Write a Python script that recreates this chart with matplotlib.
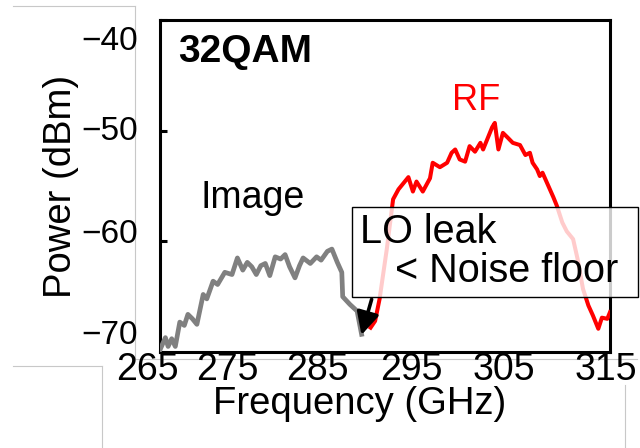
"""32QAM spectrum: image band (grey) and RF band (red) with LO-leak callout."""

import matplotlib
matplotlib.use("Agg")
import matplotlib.pyplot as plt  # noqa: E402
import matplotlib.transforms as mtransforms  # noqa: E402
from matplotlib.lines import Line2D  # noqa: E402
from matplotlib.patches import Rectangle  # noqa: E402

# ----------------------------------------------------------------------------- data
image_freq = [265.0, 265.6, 265.9, 266.3, 266.7, 267.2, 267.7, 268.1, 268.6, 269.1,
              269.8, 270.2, 270.9, 271.4, 272.2, 273.0, 273.6, 274.2, 274.7, 275.2,
              275.7, 276.2, 276.7, 277.2, 277.8, 278.4, 278.9, 279.4, 280.0, 280.5,
              280.9, 281.7, 282.4, 282.9, 283.6, 284.1, 284.7, 285.2, 285.3, 286.1,
              286.9, 287.4]
image_power = [-69.8, -68.7, -69.5, -68.8, -69.5, -67.3, -67.6, -66.6, -67.0, -67.5,
               -64.8, -65.2, -63.6, -63.9, -62.8, -63.0, -61.5, -62.6, -61.9, -62.3,
               -63.0, -62.2, -62.0, -63.1, -61.4, -61.6, -61.2, -62.3, -63.3, -62.2,
               -61.5, -62.0, -61.4, -61.7, -60.9, -60.7, -61.9, -62.8, -65.0, -65.7,
               -66.3, -68.4]

rf_freq = [288.4, 288.9, 289.4, 290.2, 290.9, 291.5, 292.2, 292.6, 293.1, 293.5,
           294.2, 295.0, 295.3, 296.1, 296.9, 297.4, 297.8, 298.3, 298.9, 299.4,
           300.0, 300.6, 300.9, 301.4, 301.9, 302.2, 302.6, 303.1, 303.6, 304.2,
           305.0, 305.6, 306.1, 306.4, 306.9, 307.2, 307.5, 308.1, 308.7, 309.1,
           309.7, 310.2, 310.9, 311.4, 312.0, 312.6, 313.1, 313.7, 314.1, 314.7,
           315.0]
rf_power = [-67.8, -67.2, -65.2, -60.7, -56.2, -55.3, -54.6, -54.2, -55.5, -54.6,
            -55.5, -54.3, -52.9, -53.3, -52.9, -52.0, -51.7, -52.6, -52.8, -51.4,
            -51.9, -51.1, -51.7, -50.7, -49.7, -49.3, -51.7, -50.2, -50.6, -51.1,
            -51.3, -52.2, -52.0, -52.9, -53.5, -54.1, -53.8, -54.9, -56.0, -56.8,
            -58.3, -59.1, -59.8, -61.6, -64.3, -65.8, -66.7, -67.9, -66.9, -67.0,
            -66.4]

x_ticks = [265, 275, 285, 295, 305, 315]
x_labels = ["265", "275", "285", "295", "305", "315"]
y_ticks = [-40, -50, -60, -70]
y_labels = ["\u221240", "\u221250", "\u221260", "\u221270"]

# hand-placed tick labels in the original: pixel offsets (dx right, dy down)
x_label_shift = [(-13, 0), (-23, 0), (-23, 0), (-19, 0), (-16, 0), (-4, 0)]
y_label_shift = [(0, 18), (0, -3), (0, -10), (0, -20)]

W, H = 640, 448
plt.rcParams["font.family"] = ["Liberation Sans", "DejaVu Sans"]

fig = plt.figure(figsize=(W / 100, H / 100), dpi=100)
ax = fig.add_axes([160 / W, 1 - 352 / H, 450 / W, 332 / H])

ax.plot(image_freq, image_power, color="#808080", lw=3.4, solid_joinstyle="round", zorder=3)
ax.plot(rf_freq, rf_power, color="#ff0000", lw=2.9, solid_joinstyle="round", zorder=3)

ax.set_xlim(265, 315)
ax.set_ylim(-70, -40)
for s in ax.spines.values():
    s.set_linewidth(2.2)
    s.set_color("black")

ax.set_xticks(x_ticks)
ax.set_xticklabels(x_labels)
ax.set_yticks(y_ticks)
ax.set_yticklabels(y_labels)
ax.tick_params(axis="x", length=0, pad=0, labelsize=27)
ax.tick_params(axis="y", direction="in", length=5, width=2.2, pad=16, labelsize=24)


def _shift(labels, shifts):
    for lbl, (dx, dy) in zip(labels, shifts):
        off = mtransforms.ScaledTranslation(dx / 100, -dy / 100, fig.dpi_scale_trans)
        lbl.set_transform(lbl.get_transform() + off)


_shift(ax.get_xticklabels(), x_label_shift)
_shift(ax.get_yticklabels(), y_label_shift)

fig.text(360 / W, 1 - 404 / H, "Frequency (GHz)", fontsize=27.5, ha="center", va="center")
fig.text(61 / W, 1 - 186 / H, "Power (dBm)", fontsize=27.5, rotation=90,
         ha="center", va="center")

ax.text(0.04, 0.873, "32QAM", transform=ax.transAxes, fontsize=28, fontweight="bold",
        va="baseline", ha="left")
ax.text(0.089, 0.434, "Image", transform=ax.transAxes, fontsize=27, va="baseline")
ax.text(0.649, 0.729, "RF", transform=ax.transAxes, fontsize=26, color="#ff0000",
        va="baseline")

# LO-leak callout: translucent box reaching past the right spine
ax.add_patch(Rectangle((0.427, 0.166), 0.635, 0.271, transform=ax.transAxes,
                       facecolor=(1, 1, 1, 0.8), edgecolor="black", lw=1.0,
                       clip_on=False, zorder=5))
ax.text(0.444, 0.328, "LO leak", transform=ax.transAxes, fontsize=28.5, va="baseline",
        zorder=6, clip_on=False)
ax.text(0.522, 0.211, "< Noise floor", transform=ax.transAxes, fontsize=28.5,
        va="baseline", zorder=6, clip_on=False)
ax.annotate("", xy=(287.3, -68.7), xytext=(288.6, -65.0),
            arrowprops=dict(arrowstyle="-|>", color="black", lw=2.6, mutation_scale=34),
            zorder=6)

# faint frame lines left over in the original screenshot
frame_lines = [((13, 6), (135, 6)), ((135, 6), (135, 359)), ((135, 359), (637, 359)),
               ((13, 366), (102, 366)), ((102, 366), (102, 448)), ((625, 385), (625, 448))]
for (x0, y0), (x1, y1) in frame_lines:
    fig.add_artist(Line2D([x0 / W, x1 / W], [1 - y0 / H, 1 - y1 / H],
                          transform=fig.transFigure, color="#c8c8c8", lw=0.8, zorder=0))

fig.savefig("out.png", dpi=100, facecolor="white")
